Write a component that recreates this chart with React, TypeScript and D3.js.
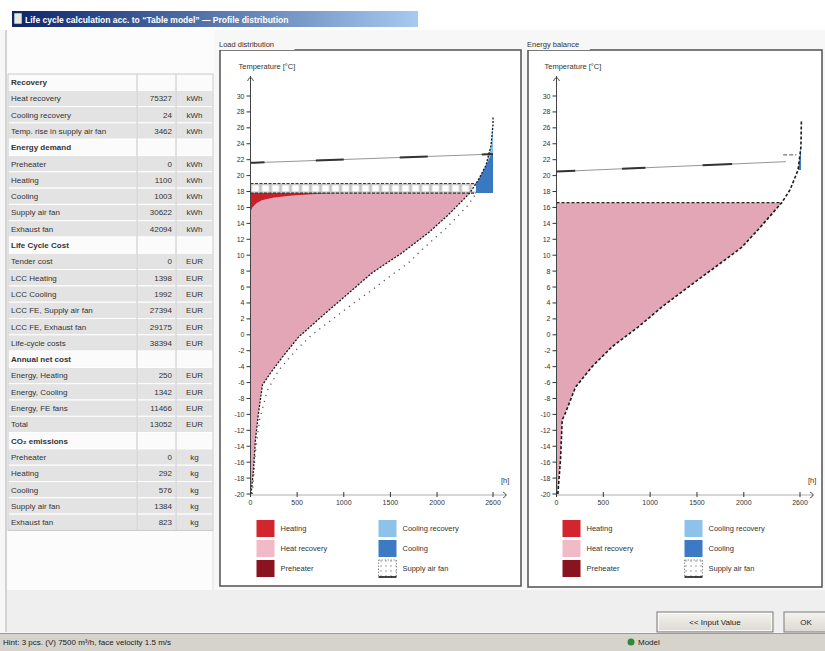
import React from "react";
import * as d3 from "d3";

const FONT = "'Liberation Sans', Arial, Helvetica, sans-serif";

const titleText = "Life cycle calculation acc. to \u201CTable model\u201D \u2014 Profile distribution";
const panelTitles = ["Load distribution", "Energy balance"];
const statusText = "Hint: 3 pcs. (V) 7500 m\u00B3/h, face velocity 1.5 m/s";
const statusRight = "Model";
const buttonLabels = ["<< Input Value", "OK"];

const rowLabels = [
  "Recovery", "Heat recovery", "Cooling recovery", "Temp. rise in supply air fan",
  "Energy demand", "Preheater", "Heating", "Cooling", "Supply air fan", "Exhaust fan",
  "Life Cycle Cost", "Tender cost", "LCC Heating", "LCC Cooling", "LCC FE, Supply air fan", "LCC FE, Exhaust fan", "Life-cycle costs",
  "Annual net cost", "Energy, Heating", "Energy, Cooling", "Energy, FE fans", "Total",
  "CO\u2082 emissions", "Preheater", "Heating", "Cooling", "Supply air fan", "Exhaust fan",
];
const rowValues = ["", "75327", "24", "3462", "", "0", "1100", "1003", "30622", "42094", "", "0", "1398", "1992", "27394", "29175", "38394", "", "250", "1342", "11466", "13052", "", "0", "292", "576", "1384", "823"];
const rowUnits = ["", "kWh", "kWh", "kWh", "", "kWh", "kWh", "kWh", "kWh", "kWh", "", "EUR", "EUR", "EUR", "EUR", "EUR", "EUR", "", "EUR", "EUR", "EUR", "EUR", "", "kg", "kg", "kg", "kg", "kg"];

const tempTicks = [-20, -18, -16, -14, -12, -10, -8, -6, -4, -2, 0, 2, 4, 6, 8, 10, 12, 14, 16, 18, 20, 22, 24, 26, 28, 30];
const hourTicks = [0, 500, 1000, 1500, 2000, 2600];
const yAxisLabel = "Temperature [\u00B0C]";
const xAxisLabel = "[h]";

const legendLabels = ["Heating", "Heat recovery", "Preheater", "Cooling recovery", "Cooling", "Supply air fan"];
const legendColors = ["#d2262e", "#f1bac7", "#8a1320", "#8dc3e9", "#3c7bc4", "fan"];

// Left chart data
const leftOutdoorHours = [5, 10, 32, 53, 86, 128, 214, 342, 514, 802, 1049, 1305, 1626, 1905, 2119, 2350, 2440, 2525, 2579, 2600, 2600];
const leftOutdoorTemps = [-20, -19.5, -17, -13.2, -9.8, -6.3, -4.8, -2.8, -0.3, 2.7, 5.2, 7.8, 10.3, 12.8, 15.05, 17.8, 19.4, 21.3, 23.8, 26.4, 27.4];
const leftAfterHours = [20, 50, 100, 180, 300, 480, 660, 940, 1120, 1300, 1500, 1690, 1840, 1980, 2090, 2230, 2333, 2420];
const leftAfterTemps = [-20, -15, -10.5, -7, -4.5, -2, 0, 2.5, 4.1, 5.6, 7.4, 9, 10.7, 12.2, 13.3, 15, 16.3, 17.8];
const leftHeatingHours = [0, 20, 60, 120, 250, 450, 700, 950];
const leftHeatingTemps = [15.5, 16.0, 16.5, 16.9, 17.25, 17.5, 17.7, 17.8];
const leftSupplyTemp = 17.8;
const leftFanTemp = 19.0;
const leftExtractHours = [0, 2600];
const leftExtractTemps = [21.6, 22.7];
const leftExtractDark = [[0, 150], [700, 1000], [1600, 1900], [2480, 2600]];

// Right chart data
const rightOutdoorHours = [15, 21, 43, 61, 96, 202, 380, 594, 874, 1126, 1407, 1694, 1979, 2152, 2405, 2493, 2579, 2610, 2615];
const rightOutdoorTemps = [-20, -19, -15.7, -10.7, -9.8, -6.6, -4.0, -1.5, 1.0, 3.5, 6.0, 8.5, 11.0, 13.2, 16.6, 18.2, 20.7, 23.6, 27];
const rightSupplyTemp = 16.6;
const rightExtractHours = [0, 2450];
const rightExtractTemps = [20.5, 21.75];
const rightExtractDark = [[0, 200], [700, 950], [1560, 1875]];
const rightSetpointHours = [2420, 2560];
const rightSetpointTemp = 22.6;
const rightCoolBase = 20.7;

type P3 = [number, number, number];

function ChartPanel(props: any) {
  const {
    id, frame, axisX, xEnd, title, oH, oT, curveDash, curveW, supplyT,
    exH, exT, exDark, heatH, heatT, fanT, aftH, aftT, coolBase, topDashed, spH, spT,
  } = props;
  const x = d3.scaleLinear().domain([0, 2600]).range([axisX, xEnd]);
  const y = d3.scaleLinear().domain([-20, 30]).range([494, 96]);
  const ex = d3.scaleLinear().domain(exH).range(exT);

  const area = d3.area<P3>().x((d) => x(d[0])).y0((d) => y(d[1])).y1((d) => y(d[2]));
  const line = d3.line<[number, number]>().x((d) => x(d[0])).y((d) => y(d[1]));

  const pts: [number, number][] = oH.map((h: number, i: number) => [h, oT[i]]);
  const pinkPts: P3[] = [[0, -20, supplyT], ...pts.filter((p) => p[1] <= supplyT).map((p) => [p[0], p[1], supplyT] as P3)];
  const areaPts = pts.slice(0, pts.length - 1);

  let coolPts: P3[] = [];
  let coolRecPts: P3[] = [];
  if (coolBase === undefined) {
    coolPts = areaPts.filter((p) => p[1] >= supplyT).map((p) => [p[0], supplyT, Math.max(supplyT, Math.min(p[1], ex(p[0])))] as P3);
    const idx = areaPts.findIndex((p) => p[1] >= ex(p[0]));
    if (idx > 0) {
      coolRecPts = areaPts.slice(idx - 1).map((p) => [p[0], Math.min(p[1], ex(p[0])), p[1]] as P3);
    }
  } else {
    coolPts = areaPts.filter((p) => p[1] >= coolBase).map((p) => [p[0], coolBase, p[1]] as P3);
  }

  let fanEnd = 0;
  if (fanT !== undefined) {
    for (let i = 0; i < pts.length - 1; i++) {
      if (pts[i][1] < fanT && pts[i + 1][1] >= fanT) {
        fanEnd = pts[i][0] + ((fanT - pts[i][1]) / (pts[i + 1][1] - pts[i][1])) * (pts[i + 1][0] - pts[i][0]);
        break;
      }
    }
  }
  const bandTop = fanT !== undefined ? y(fanT) : 0;
  const bandBot = y(supplyT);

  const y0px = y(-20);
  const axisY = y0px + 1;

  const legX1 = axisX + 6;
  const legX2 = axisX + 128;
  const legY = [520, 540, 560];

  return (
    <g>
      <defs>
        <pattern id={`fan-${id}`} patternUnits="userSpaceOnUse" x={x(0)} y={bandTop} width={10} height={bandBot - bandTop}>
          <rect width={10} height={bandBot - bandTop} fill="#c4c4c4" />
          <rect x={1.5} y={1.6} width={7} height={bandBot - bandTop - 3.2} fill="#ffffff" />
        </pattern>
        <pattern id={`fanleg-${id}`} patternUnits="userSpaceOnUse" width={5} height={5}>
          <rect width={5} height={5} fill="#ffffff" />
          <rect x={0} y={0} width={2} height={2} fill="#cfcfcf" />
        </pattern>
      </defs>
      {/* frame */}
      <rect x={frame[0]} y={frame[1]} width={frame[2] - frame[0]} height={frame[3] - frame[1]} fill="#ffffff" stroke="#5a5a5a" strokeWidth={1.6} />
      <rect x={frame[0] - 1} y={frame[1] - 8} width={title.length * 4.2 + 4} height={8} fill="#f7f7f7" />
      <text x={frame[0] - 1} y={frame[1] - 3} fontSize={7.5} fill="#333">{title}</text>

      {/* areas */}
      <path d={area(pinkPts) || ""} fill="#e2a6b7" />
      {heatH && (
        <path d={area(heatH.map((h: number, i: number) => [h, heatT[i], supplyT] as P3)) || ""} fill="#c8202b" />
      )}
      {coolPts.length > 1 && <path d={area(coolPts) || ""} fill="#3a78c2" />}
      {coolRecPts.length > 1 && <path d={area(coolRecPts) || ""} fill="#86bde6" />}

      {/* fan band */}
      {fanT !== undefined && (
        <g>
          <rect x={x(0)} y={bandTop} width={x(fanEnd) - x(0)} height={bandBot - bandTop} fill={`url(#fan-${id})`} />
          <line x1={x(0)} x2={x(fanEnd)} y1={bandTop} y2={bandTop} stroke="#333" strokeWidth={1} strokeDasharray="3,1.5" />
          <line x1={x(0)} x2={x(fanEnd)} y1={bandBot} y2={bandBot} stroke="#333" strokeWidth={1.2} strokeDasharray="3,1.5" />
        </g>
      )}

      {topDashed && (
        <line x1={x(0)} x2={x(pts.filter((p) => p[1] <= supplyT).slice(-1)[0][0])} y1={bandBot} y2={bandBot} stroke="#222" strokeWidth={1.4} strokeDasharray="3,2" />
      )}

      {/* extract air line */}
      <path d={line(exH.map((h: number, i: number) => [h, exT[i]])) || ""} fill="none" stroke="#8a8a8a" strokeWidth={0.9} />
      {exDark.map((r: number[], i: number) => (
        <path key={i} d={line([[r[0], ex(r[0])], [r[1], ex(r[1])]]) || ""} fill="none" stroke="#333" strokeWidth={2} />
      ))}
      {spH && (
        <path d={line([[spH[0], spT], [spH[1], spT]]) || ""} fill="none" stroke="#555" strokeWidth={1} strokeDasharray="4,2" />
      )}

      {/* secondary dotted line */}
      {aftH && (
        <path d={line(aftH.map((h: number, i: number) => [h, aftT[i]])) || ""} fill="none" stroke="#555" strokeWidth={1.3} strokeDasharray="1.2,5" />
      )}

      {/* outdoor curve */}
      <path d={line(pts) || ""} fill="none" stroke="#1a1a1a" strokeWidth={curveW} strokeDasharray={curveDash} />

      {/* y axis */}
      <line x1={axisX} x2={axisX} y1={axisY} y2={76} stroke="#444" strokeWidth={1} />
      <path d={`M${axisX - 3},81 Q${axisX},74 ${axisX + 3},81`} fill="none" stroke="#444" strokeWidth={0.9} />
      {tempTicks.map((t) => (
        <g key={t}>
          <line x1={axisX - 4} x2={axisX} y1={y(t)} y2={y(t)} stroke="#333" strokeWidth={1} />
          <text x={axisX - 6} y={y(t) + 2.5} fontSize={7} textAnchor="end" fill="#333">{t}</text>
        </g>
      ))}
      <text x={axisX - 12} y={69} fontSize={7.5} fill="#333">{yAxisLabel}</text>

      {/* x axis */}
      <line x1={axisX} x2={xEnd + 14} y1={axisY} y2={axisY} stroke="#999" strokeWidth={0.8} />
      <path d={`M${xEnd + 10},${axisY - 3} Q${xEnd + 16},${axisY} ${xEnd + 10},${axisY + 3}`} fill="none" stroke="#444" strokeWidth={0.9} />
      {hourTicks.map((h) => (
        <g key={h}>
          <line x1={x(h)} x2={x(h)} y1={axisY - 3} y2={axisY + 2} stroke="#333" strokeWidth={1} />
          <text x={x(h)} y={axisY + 10} fontSize={7} textAnchor="middle" fill="#333">{h}</text>
        </g>
      ))}
      <text x={xEnd + 8} y={axisY - 12} fontSize={7.5} fill="#333">{xAxisLabel}</text>

      {/* legend */}
      {legendLabels.map((lab, i) => {
        const col = i < 3 ? 0 : 1;
        const lx = col === 0 ? legX1 : legX2;
        const ly = legY[i % 3];
        const c = legendColors[i];
        return (
          <g key={lab}>
            {c === "fan" ? (
              <g>
                <rect x={lx} y={ly} width={18} height={17} fill={`url(#fanleg-${id})`} stroke="#777" strokeWidth={0.8} strokeDasharray="1.5,1.5" />
                <line x1={lx} x2={lx + 18} y1={ly + 17} y2={ly + 17} stroke="#111" strokeWidth={1.5} />
              </g>
            ) : (
              <rect x={lx} y={ly} width={18} height={17} fill={c} />
            )}
            <text x={lx + 24} y={ly + 11} fontSize={7.5} fill="#333">{lab}</text>
          </g>
        );
      })}
    </g>
  );
}

function Table() {
  const top = 74;
  const rh = 16.3;
  const c0 = 8, c1 = 137, c2 = 176, c3 = 213;
  return (
    <g>
      {rowLabels.map((lab, i) => {
        const y0 = top + i * rh;
        const header = rowValues[i] === "";
        const fill = header ? "#fbfbfb" : "#e3e3e3";
        return (
          <g key={i}>
            <rect x={c0} y={y0} width={c1 - c0} height={rh} fill={fill} stroke="#ffffff" strokeWidth={1} />
            <rect x={c1} y={y0} width={c2 - c1} height={rh} fill={fill} stroke="#ffffff" strokeWidth={1} />
            <rect x={c2} y={y0} width={c3 - c2} height={rh} fill={fill} stroke="#ffffff" strokeWidth={1} />
            <text x={c0 + 3} y={y0 + 11} fontSize={8} fill="#333" fontWeight={header ? 700 : 400}>{lab}</text>
            <text x={c2 - 4} y={y0 + 11} fontSize={8} fill="#333" textAnchor="end">{rowValues[i]}</text>
            <text x={(c2 + c3) / 2} y={y0 + 11} fontSize={8} fill="#333" textAnchor="middle">{rowUnits[i]}</text>
          </g>
        );
      })}
      <line x1={c1} x2={c1} y1={top} y2={top + rh * rowLabels.length} stroke="#c4c4c4" />
      <line x1={c2} x2={c2} y1={top} y2={top + rh * rowLabels.length} stroke="#c4c4c4" />
      <rect x={c0} y={top} width={c3 - c0} height={rh * rowLabels.length} fill="none" stroke="#c8c8c8" />
    </g>
  );
}

export default function App() {
  return (
    <svg width={825} height={651} style={{ position: "absolute", left: 0, top: 0, fontFamily: FONT }}>
      <defs>
        <linearGradient id="titleGrad" x1="0" x2="1" y1="0" y2="0">
          <stop offset="0" stopColor="#0a246a" />
          <stop offset="1" stopColor="#a6caf0" />
        </linearGradient>
        <linearGradient id="btnGrad" x1="0" x2="0" y1="0" y2="1">
          <stop offset="0" stopColor="#f4f3ef" />
          <stop offset="1" stopColor="#dcd9d2" />
        </linearGradient>
      </defs>
      <rect width={825} height={651} fill="#f7f7f7" />
      <rect width={825} height={30} fill="#ffffff" />

      {/* title bar */}
      <rect x={12} y={11} width={406} height={16} fill="url(#titleGrad)" />
      <rect x={14} y={13} width={8} height={11} fill="#e8e8e8" stroke="#334" strokeWidth={0.6} />
      <text x={25} y={22.5} fontSize={8.5} fontWeight={700} fill="#ffffff">{titleText}</text>

      {/* left pane */}
      <line x1={6} x2={6} y1={30} y2={632} stroke="#b0b0b0" />
      <rect x={7} y={30} width={207} height={560} fill="#fcfcfc" />
      <line x1={213} x2={213} y1={530} y2={590} stroke="#dedede" />
      <Table />

      <ChartPanel
        id="L" frame={[220, 50, 521, 586]} axisX={250.5} xEnd={493} title={panelTitles[0]}
        oH={leftOutdoorHours} oT={leftOutdoorTemps} curveDash="2,1.5" curveW={1.3} supplyT={leftSupplyTemp}
        exH={leftExtractHours} exT={leftExtractTemps} exDark={leftExtractDark}
        heatH={leftHeatingHours} heatT={leftHeatingTemps} fanT={leftFanTemp}
        aftH={leftAfterHours} aftT={leftAfterTemps}
      />
      <ChartPanel
        id="R" frame={[528, 50, 822, 587]} axisX={556.5} xEnd={800} title={panelTitles[1]}
        oH={rightOutdoorHours} oT={rightOutdoorTemps} curveDash="3,2" curveW={1.6} supplyT={rightSupplyTemp}
        exH={rightExtractHours} exT={rightExtractTemps} exDark={rightExtractDark}
        coolBase={rightCoolBase} topDashed={true} spH={rightSetpointHours} spT={rightSetpointTemp}
      />

      {/* bottom area */}
      <rect x={7} y={590} width={818} height={42} fill="#efefef" />
      <rect x={657} y={612} width={116} height={20} fill="url(#btnGrad)" stroke="#7a7a7a" strokeWidth={1} />
      <rect x={658.5} y={613.5} width={113} height={17} fill="none" stroke="#ffffff" strokeWidth={0.8} />
      <text x={715} y={625} fontSize={8} textAnchor="middle" fill="#222">{buttonLabels[0]}</text>
      <rect x={784} y={612} width={46} height={20} fill="url(#btnGrad)" stroke="#7a7a7a" strokeWidth={1} />
      <text x={806} y={625} fontSize={8} textAnchor="middle" fill="#222">{buttonLabels[1]}</text>

      {/* status bar */}
      <rect x={0} y={633} width={825} height={18} fill="#d6d3cc" />
      <line x1={0} x2={825} y1={633.5} y2={633.5} stroke="#9a9a9a" />
      <text x={3} y={645} fontSize={8} fill="#222">{statusText}</text>
      <circle cx={631} cy={642} r={3.5} fill="#2f8a3a" />
      <text x={638} y={645} fontSize={8} fill="#222">{statusRight}</text>
    </svg>
  );
}
